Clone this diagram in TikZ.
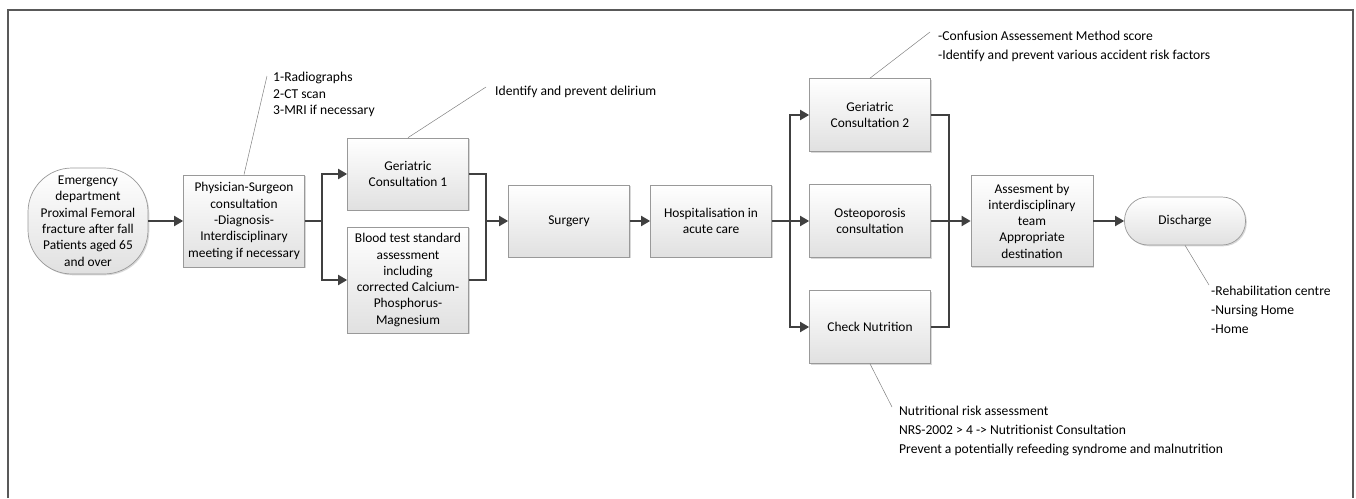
\documentclass[tikz,border=0pt]{standalone}
\usepackage{fontspec}
\setmainfont{Carlito}
\usetikzlibrary{arrows.meta,shadows}

\tikzset{
  box/.style={draw=black!40, line width=0.7pt, top color=white, bottom color=black!12,
    drop shadow={shadow xshift=1.3pt, shadow yshift=-1.3pt, fill=black!30, opacity=0.5},
    align=center, inner sep=2pt, minimum width=121pt, font=\fontsize{13.4}{16.3}\selectfont},
  flow/.style={draw=black!75, line width=1.8pt, -{Triangle[length=9pt,width=10pt]}},
  link/.style={draw=black!75, line width=1.8pt},
  leader/.style={draw=black!50, line width=0.5pt},
  note/.style={align=left, inner sep=0pt, anchor=north west, font=\fontsize{13.6}{19}\selectfont},
  frame/.style={draw=black!65, line width=1.1pt}
}

\begin{document}
\begin{tikzpicture}[x=1pt,y=-1pt]
\useasboundingbox (0,0) rectangle (1356,498);
%Frame
\draw[frame] (8,498) -- (8,10) -- (1353,10) -- (1353,498);
%Boxes
\node[box, minimum width=120pt, minimum height=106pt, rounded corners=44pt] (emerg) at (88,221)
  {Emergency\\department\\Proximal Femoral\\fracture after fall\\Patients aged 65\\and over};
\node[box, minimum height=92pt] (phys) at (244,221)
  {Physician-Surgeon\\consultation\\-Diagnosis-\\Interdisciplinary\\meeting if necessary};
\node[box, minimum height=72pt] (ger1) at (408,174) {Geriatric\\Consultation 1};
\node[box, minimum height=106pt] (blood) at (408,280)
  {Blood test standard\\assessment\\including\\corrected Calcium-\\Phosphorus-\\Magnesium};
\node[box, minimum height=72pt] (surg) at (569,221) {Surgery};
\node[box, minimum height=72pt] (hosp) at (711,221) {Hospitalisation in\\acute care};
\node[box, minimum height=73pt] (ger2) at (870,115) {Geriatric\\Consultation 2};
\node[box, minimum height=73pt] (osteo) at (870,221) {Osteoporosis\\consultation};
\node[box, minimum height=73pt] (nutri) at (870,327) {Check Nutrition};
\node[box, minimum width=122pt, minimum height=91pt] (assess) at (1032,221)
  {Assesment by\\interdisciplinary\\team\\Appropriate\\destination};
\node[box, minimum height=48pt, rounded corners=23.5pt] (disch) at (1185,221) {Discharge};
%Arrows
\coordinate (split1) at (322,221);
\coordinate (join1) at (486,221);
\coordinate (split2) at (790,221);
\coordinate (join2) at (949,221);
\draw[flow] (emerg) -- (phys);
\draw[link] (phys.east) -- (split1);
\draw[flow] (split1) |- (ger1.west);
\draw[flow] (split1) |- (blood.west);
\draw[link] (ger1.east) -| (join1);
\draw[link] (blood.east) -| (join1);
\draw[flow] (join1) -- (surg.west);
\draw[flow] (surg) -- (hosp);
\draw[flow] (hosp) -- (osteo);
\draw[flow] (split2) |- (ger2.west);
\draw[flow] (split2) |- (nutri.west);
\draw[link] (ger2.east) -| (join2);
\draw[link] (nutri.east) -| (join2);
\draw[flow] (osteo) -- (assess);
\draw[flow] (assess) -- (disch);
%Notes
\coordinate (c1) at (267,76);
\coordinate (c2) at (486,87);
\coordinate (c3) at (930,32);
\coordinate (c4) at (1209,285);
\coordinate (c5) at (892,407);
\draw[leader] (phys.north) -- (c1);
\draw[leader] (ger1.north) -- (c2);
\draw[leader] (ger2.north) -- (c3);
\draw[leader] (disch.south) -- (c4);
\draw[leader] (nutri.south) -- (c5);
\node[note, font=\fontsize{13.6}{16.5}\selectfont] (t1) at (273,72) {1-Radiographs\\2-CT scan\\3-MRI if necessary};
\node[note] (t2) at (495,86) {Identify and prevent delirium};
\node[note] (t3) at (938,31) {-Confusion Assessement Method score\\-Identify and prevent various accident risk factors};
\node[note] (t4) at (1211,286) {-Rehabilitation centre\\-Nursing Home\\-Home};
\node[note] (t5) at (899,406) {Nutritional risk assessment\\NRS-2002 > 4 -> Nutritionist Consultation\\Prevent a potentially refeeding syndrome and malnutrition};
\end{tikzpicture}
\end{document}
